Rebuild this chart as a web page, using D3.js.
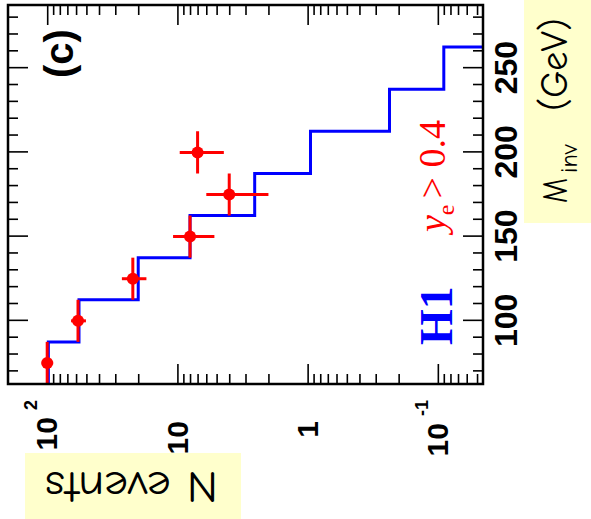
<!DOCTYPE html>
<html>
<head>
<meta charset="utf-8">
<script src="https://cdn.jsdelivr.net/npm/d3@7"></script>
<style>
  body { margin: 0; background: #fff; }
  svg { display: block; }
</style>
</head>
<body>
<div id="chart"></div>
<script>
// Data (plot is drawn upright, then turned 90deg)
const binEdges = [62.5, 87.5, 112.5, 137.5, 162.5, 187.5, 212.5, 237.5, 262.5, 287.5];
const mcEvents = [98, 57, 20, 8, 2.55, 0.95, 0.235, 0.09, 0.03];
const dataMass = [75, 100, 125, 150, 175, 200];
const dataEvents = [100, 58, 22, 8, 4, 7];
const dataErr = [10, 7.6, 4.7, 2.8, 2.0, 2.6];
const massMajor = [100, 150, 200, 250];
const massMinor = [70, 80, 90, 110, 120, 130, 140, 160, 170, 180, 190, 210, 220, 230, 240, 260, 270, 280];
const nMajor = [0.1, 1, 10, 100];
const nMinor = [0.05, 0.06, 0.07, 0.08, 0.09, 0.2, 0.3, 0.4, 0.5, 0.6, 0.7, 0.8, 0.9,
                2, 3, 4, 5, 6, 7, 8, 9, 20, 30, 40, 50, 60, 70, 80, 90];
const nLabels = {0.1: ["10", "-1"], 1: ["1", ""], 10: ["10", ""], 100: ["10", "2"]};

const W = 591, H = 519;
// upright plot size: width = mass axis, height = N axis
const PW = 379, PH = 475;

const svg = d3.select("#chart")
    .append("svg")
    .attr("width", W)
    .attr("height", H);

// label boxes (pale yellow)
svg.append("rect")
    .attr("x", 25).attr("y", 453)
    .attr("width", 216).attr("height", 70)
    .attr("fill", "#ffffcc");
svg.append("rect")
    .attr("x", 524).attr("y", -5)
    .attr("width", 80).attr("height", 228)
    .attr("fill", "#ffffcc");

const g = svg.append("g")
    .attr("transform", "translate(8,384) rotate(-90)");

const x = d3.scaleLinear().domain([62.5, 287.5]).range([0, PW]);
const y = d3.scaleLog().domain([0.045, 200]).range([PH, 0]);

g.append("clipPath").attr("id", "clip")
  .append("rect").attr("width", PW).attr("height", PH);

const tickFont = "'Liberation Sans', Arial, sans-serif";

// mass axis (bottom of upright plot) + mirror on top
function massAxis(axisFn, ty, vals, size, labels) {
    const a = axisFn(x).tickValues(vals).tickSizeInner(size).tickSizeOuter(0)
        .tickPadding(11)
        .tickFormat(labels ? d3.format("d") : "");
    const ag = g.append("g").attr("transform", `translate(0,${ty})`).call(a);
    ag.select(".domain").remove();
    ag.selectAll("line").attr("stroke", "#000").attr("stroke-width", 1.6);
    ag.selectAll("text")
        .style("font-family", tickFont)
        .style("font-weight", "bold")
        .style("font-size", "32px")
        .attr("fill", "#000");
    return ag;
}
massAxis(d3.axisBottom, PH, massMajor, -20, true);
massAxis(d3.axisBottom, PH, massMinor, -10, false);
massAxis(d3.axisTop, 0, massMajor, -20, false);
massAxis(d3.axisTop, 0, massMinor, -10, false);

// N axis (left of upright plot) + mirror on right
function nAxis(axisFn, tx, vals, size, labels) {
    const a = axisFn(y).tickValues(vals).tickSizeInner(size).tickSizeOuter(0)
        .tickFormat("");
    const ag = g.append("g").attr("transform", `translate(${tx},0)`).call(a);
    ag.select(".domain").remove();
    ag.selectAll("line").attr("stroke", "#000").attr("stroke-width", 1.6);
    if (labels) {
        ag.selectAll(".tick text").each(function(d) {
            const lab = nLabels[d];
            const t = d3.select(this)
                .text(null)
                .attr("text-anchor", "end")
                .attr("x", lab[1] ? -16 : -37)
                .attr("dy", "0.32em")
                .attr("fill", "#000")
                .style("font-family", tickFont)
                .style("font-weight", "bold")
                .style("font-size", "30px");
            t.append("tspan").text(lab[0]);
            if (lab[1]) {
                t.append("tspan")
                    .attr("dx", 7)
                    .attr("dy", -20)
                    .style("font-size", "18px")
                    .text(lab[1]);
            }
        });
    }
    return ag;
}
nAxis(d3.axisLeft, 0, nMajor, -20, true);
nAxis(d3.axisLeft, 0, nMinor, -10, false);
nAxis(d3.axisRight, PW, nMajor, -20, false);
nAxis(d3.axisRight, PW, nMinor, -10, false);

// MC histogram (blue steps)
const histPts = binEdges.map((e, i) => [e, mcEvents[Math.min(i, mcEvents.length - 1)]]);
const stepLine = d3.line()
    .x(d => x(d[0]))
    .y(d => y(d[1]))
    .curve(d3.curveStepAfter);
g.append("path")
    .datum(histPts)
    .attr("clip-path", "url(#clip)")
    .attr("fill", "none")
    .attr("stroke", "#0000ff")
    .attr("stroke-width", 3)
    .attr("d", stepLine);

// data points with error bars (red)
const pts = g.append("g").attr("clip-path", "url(#clip)");
dataMass.forEach(function(m, i) {
    const n = dataEvents[i];
    pts.append("line")
        .attr("x1", x(m - 12.5)).attr("x2", x(m + 12.5))
        .attr("y1", y(n)).attr("y2", y(n))
        .attr("stroke", "#ff0000").attr("stroke-width", 3);
    pts.append("line")
        .attr("x1", x(m)).attr("x2", x(m))
        .attr("y1", y(n - dataErr[i])).attr("y2", y(n + dataErr[i]))
        .attr("stroke", "#ff0000").attr("stroke-width", 3);
    pts.append("circle")
        .attr("cx", x(m)).attr("cy", y(n))
        .attr("r", 6)
        .attr("fill", "#ff0000");
});

// frame
g.append("rect")
    .attr("width", PW).attr("height", PH)
    .attr("fill", "none")
    .attr("stroke", "#000")
    .attr("stroke-width", 2.5);

// texts inside the frame
g.append("text")
    .attr("x", 306).attr("y", 65)
    .style("font-family", tickFont)
    .style("font-weight", "bold")
    .style("font-size", "40px")
    .text("(c)");

g.append("text")
    .attr("x", 39).attr("y", 444)
    .attr("fill", "#0000ff")
    .style("font-family", "'Liberation Serif', 'Times New Roman', serif")
    .style("font-weight", "bold")
    .style("font-size", "46px")
    .text("H1");

const cut = g.append("text")
    .attr("x", 152).attr("y", 437)
    .attr("fill", "#ff0000")
    .style("font-family", "'Liberation Serif', 'Times New Roman', serif")
    .style("font-size", "38px");
cut.append("tspan").style("font-style", "italic").text("y");
cut.append("tspan").attr("dy", 9).style("font-size", "24px").text("e");
cut.append("tspan").attr("dy", -9).attr("dx", 6).text("> 0.4");

// axis titles
const titleFont = "'Comic Sans MS', 'Comic Neue', 'DejaVu Sans', sans-serif";
svg.append("text")
    .attr("transform", "translate(218,472) rotate(180)")
    .attr("textLength", 173)
    .attr("lengthAdjust", "spacingAndGlyphs")
    .style("font-family", titleFont)
    .style("font-size", "44px")
    .attr("fill", "#000")
    .text("N events");

const mt = svg.append("text")
    .attr("transform", "translate(567,203) rotate(-90)")
    .style("font-family", titleFont)
    .style("font-size", "36px")
    .attr("fill", "#000");
mt.append("tspan").attr("x", 0).attr("textLength", 25)
    .attr("lengthAdjust", "spacingAndGlyphs").text("M");
mt.append("tspan").attr("x", 30).attr("dy", 10).style("font-size", "24px").text("inv");
mt.append("tspan").attr("x", 92).attr("dy", -10).style("font-size", "38px").text("(GeV)");
</script>
</body>
</html>
